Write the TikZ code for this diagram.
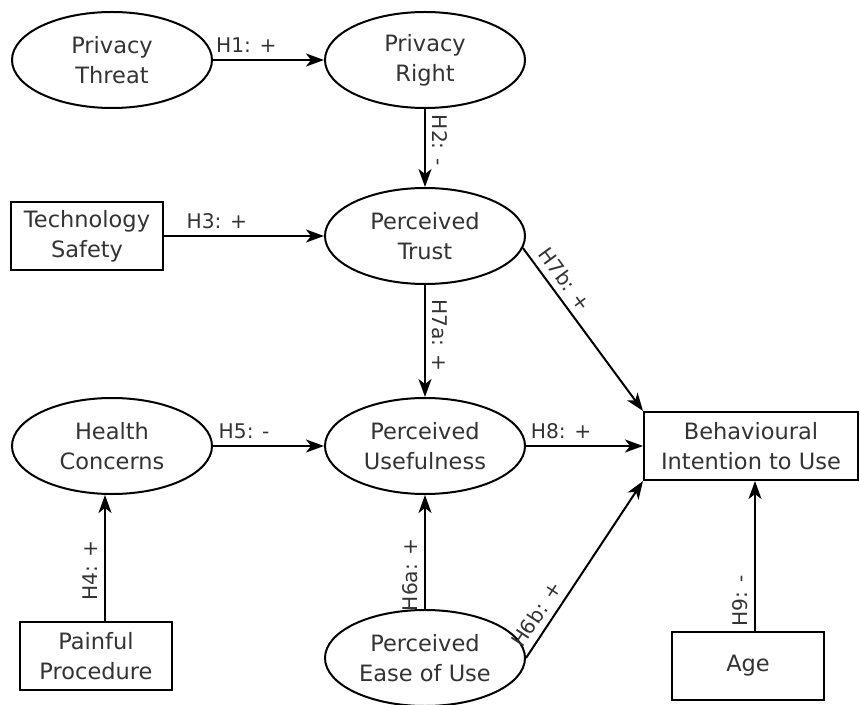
\documentclass[tikz,border=0pt]{standalone}
\usepackage{fontspec}
\setmainfont{DejaVu Sans}
\usepackage{tikz}
\usetikzlibrary{shapes,arrows.meta,positioning,calc}
\tikzset{
latent/.style = {draw, fill=white, ellipse, minimum height=48pt, minimum width=100pt, inner sep=0pt, align=center},
block/.style = {draw, fill=white, rectangle, minimum height=34pt, minimum width=76pt, align=center},
hyp/.style = {above, sloped, font=\fontsize{10.1}{12}\selectfont, text=black!80}
}

\begin{document}
\begin{tikzpicture}[auto, node distance=156.5pt, >={Stealth[length=9pt,width=6.5pt,inset=2.5pt]},
    line width=1pt, font=\fontsize{11.25}{15}\selectfont, text=black!80]
		\useasboundingbox (-56pt,30pt) rectangle (374pt,-322.5pt);

		\node [latent] (threat) {Privacy\\Threat};
		\node [latent, right of=threat] (right) {Privacy\\Right};
		\node [latent, below of=right, node distance=88pt] (trust) {Perceived\\Trust};
		\node [block, left of=trust, node distance=169pt] (safety) {Technology\\Safety};
		\node [latent, below of=trust, node distance=105pt] (useful) {Perceived\\Usefulness};
		\node [latent, left of=useful] (health) {Health\\Concerns};
		\node [latent, below of=useful, node distance=106pt] (ease) {Perceived\\Ease of Use};
		\node [block, below of=health, node distance=105pt, xshift=-8pt] (pain) {Painful\\Procedure};
		\node [block, right of=useful, node distance=163pt, minimum width=107pt] (intent) {Behavioural\\Intention to Use};
		\node [block, below of=intent, node distance=110pt, xshift=-1.5pt] (age) {Age};

		\draw [->] (threat) -- node [hyp, pos=0.3] {H1: +} (right);
		\draw [->] (right) -- node [hyp, pos=0.4] {H2: -} (trust);
		\draw [->] (safety) -- node [hyp, pos=0.33] {H3: +} (trust);
		\draw [->] (trust) -- node [hyp, pos=0.45] {H7a: +} (useful);
		\draw [->] (trust.-7) -- node [hyp, pos=0.25] {H7b: +} (intent.north west);
		\draw [->] (health) -- node [hyp, pos=0.28] {H5: -} (useful);
		\draw [->] ([xshift=4.5pt]pain.north) -- node [hyp, pos=0.4] {H4: +} ([xshift=4.5pt]pain.north |- health.south);
		\draw [->] (useful) -- node [hyp, pos=0.3] {H8: +} (intent);
		\draw [->] (ease) -- node [hyp, pos=0.3] {H6a: +} (useful);
		\draw [->] (ease.east) -- node [hyp, pos=0.2] {H6b: +} (intent.south west);
		\draw [->] ([xshift=3.5pt]age.north) -- node [hyp, pos=0.2] {H9: -} ([xshift=3.5pt]age.north |- intent.south);
\end{tikzpicture}
\end{document}
